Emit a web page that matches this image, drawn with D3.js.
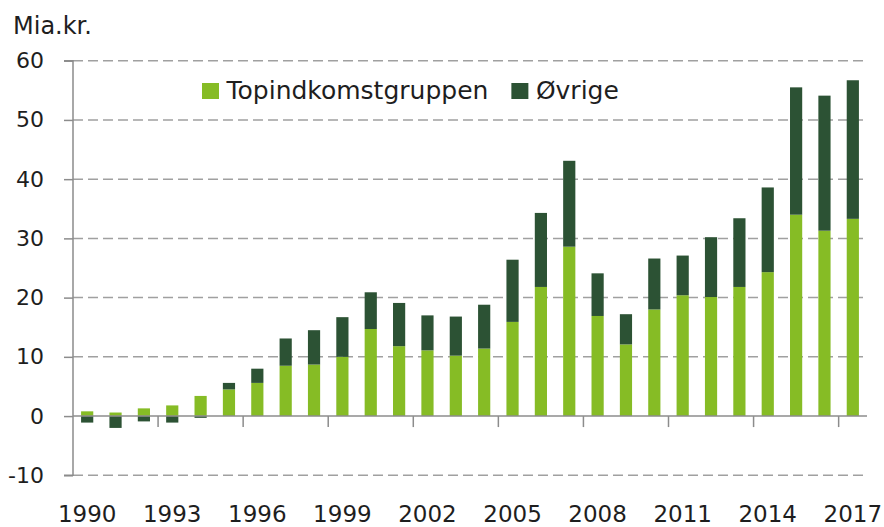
<!DOCTYPE html>
<html>
<head>
<meta charset="utf-8">
<script src="https://cdn.jsdelivr.net/npm/d3@7"></script>
<style>
  html, body { margin: 0; padding: 0; background: #fff; }
  svg { display: block; }
  text { font-family: "DejaVu Sans", sans-serif; fill: #1e1e1e; }
</style>
</head>
<body>
<svg id="chart" width="884" height="527"></svg>
<script>
const years = d3.range(1990, 2018);
const topindkomst = [0.8, 0.6, 1.3, 1.8, 3.4, 4.5, 5.6, 8.5, 8.7, 10.0, 14.7, 11.8, 11.1, 10.2, 11.4, 15.9, 21.8, 28.6, 16.9, 12.1, 18.0, 20.4, 20.1, 21.8, 24.3, 34.0, 31.3, 33.3];
const ovrige = [-1.1, -2.0, -0.9, -1.1, -0.3, 1.1, 2.4, 4.6, 5.8, 6.7, 6.2, 7.3, 5.9, 6.6, 7.4, 10.5, 12.5, 14.5, 7.2, 5.1, 8.6, 6.7, 10.1, 11.6, 14.3, 21.5, 22.8, 23.4];
const yTicks = [-10, 0, 10, 20, 30, 40, 50, 60];
const xTickLabels = [1990, 1993, 1996, 1999, 2002, 2005, 2008, 2011, 2014, 2017];
const seriesNames = ["Topindkomstgruppen", "Øvrige"];
const colors = ["#86bc25", "#2c5234"];

const svg = d3.select("#chart");
const mLeft = 73, mRight = 867, mTop = 60.7, mBottom = 475.3;

const x = d3.scaleBand().domain(years).range([mLeft, mRight])
  .paddingInner(0.57).paddingOuter(0.285);
const y = d3.scaleLinear().domain([-10, 60]).range([mBottom, mTop]);

// gridlines (dashed) except zero
svg.append("g").selectAll("line").data(yTicks.filter(d => d !== 0)).join("line")
  .attr("x1", mLeft).attr("x2", mRight)
  .attr("y1", d => y(d)).attr("y2", d => y(d))
  .attr("stroke", "#a0a0a0").attr("stroke-width", 1.5)
  .attr("stroke-dasharray", "10,5");

// data table for stacking
const table = years.map((yr, i) => ({ year: yr, Topindkomstgruppen: topindkomst[i], "Øvrige": ovrige[i] }));
const stack = d3.stack().keys(seriesNames).offset(d3.stackOffsetDiverging);
const stacked = stack(table);

svg.append("g").selectAll("g").data(stacked).join("g")
  .attr("fill", (d, i) => colors[i])
  .selectAll("rect").data(d => d).join("rect")
  .attr("x", d => x(d.data.year))
  .attr("width", x.bandwidth())
  .attr("y", d => y(Math.max(d[0], d[1])))
  .attr("height", d => Math.abs(y(d[0]) - y(d[1])));

// y axis
const yAxis = d3.axisLeft(y).tickValues(yTicks).tickSize(9).tickPadding(20).tickFormat(d => String(d));
const gy = svg.append("g").attr("transform", `translate(${mLeft},0)`).call(yAxis);
gy.select(".domain").attr("stroke", "#8c8c8c").attr("stroke-width", 1.5).attr("d", `M-9,${y(60)}H0V${y(-10)}H-9`);
gy.selectAll(".tick line").attr("stroke", "#8c8c8c").attr("stroke-width", 1.5);
gy.selectAll(".tick text").attr("font-size", 22).attr("font-family", "DejaVu Sans").attr("fill", "#1e1e1e");

// zero axis line
svg.append("line").attr("x1", mLeft).attr("x2", mRight)
  .attr("y1", y(0)).attr("y2", y(0))
  .attr("stroke", "#8c8c8c").attr("stroke-width", 1.5);

// x ticks at every third band boundary
const step = x.step();
const boundaries = d3.range(3, 28, 3);
svg.append("g").selectAll("line").data(boundaries).join("line")
  .attr("x1", k => mLeft + k * step).attr("x2", k => mLeft + k * step)
  .attr("y1", y(0)).attr("y2", y(0) + 11)
  .attr("stroke", "#8c8c8c").attr("stroke-width", 1.5);

// x labels
svg.append("g").selectAll("text").data(xTickLabels).join("text")
  .attr("x", d => x(d) + x.bandwidth() / 2)
  .attr("y", 522)
  .attr("text-anchor", "middle")
  .attr("font-size", 23)
  .text(d => d);

// unit label
svg.append("text").attr("x", 13).attr("y", 34).attr("font-size", 24).text("Mia.kr.");

// legend
const lg = svg.append("g");
let lx = 202;
seriesNames.forEach((name, i) => {
  lg.append("rect").attr("x", lx).attr("y", 83).attr("width", 17).attr("height", 16).attr("fill", colors[i]);
  const t = lg.append("text").attr("x", lx + 24.5).attr("y", 99).attr("font-size", 25).text(name);
  lx = lx + 24.5 + t.node().getComputedTextLength() + 23;
});
</script>
</body>
</html>
